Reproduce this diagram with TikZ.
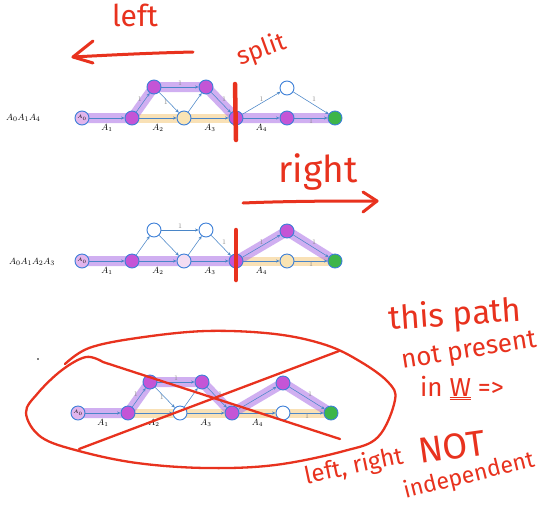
\documentclass[tikz,border=0pt]{standalone}
\usepackage{fontspec}
\newfontfamily\handfont{Fira Sans}
\usetikzlibrary{arrows.meta}
\definecolor{nodeblue}{HTML}{3C7FD8}
\definecolor{edgeblue}{HTML}{4A86C8}
\definecolor{vpurple}{HTML}{C455D6}
\definecolor{vlight}{HTML}{E2B5EC}
\definecolor{vyellow}{HTML}{F9E4B4}
\definecolor{vpink}{HTML}{F3DDF2}
\definecolor{vgreen}{HTML}{3DB54A}
\definecolor{hpurple}{HTML}{B27BE8}
\definecolor{horange}{HTML}{F6CD86}
\definecolor{redink}{HTML}{E8321E}
\definecolor{onegray}{HTML}{8A8A8A}

\tikzset{
  gv/.style={circle, draw=nodeblue, line width=0.9pt, minimum size=14pt, inner sep=0pt, fill=white},
  ge/.style={draw=edgeblue, line width=0.55pt, -{Stealth[length=3.5pt,width=3pt]}},
  hlp/.style={draw=hpurple, opacity=0.6, line width=10pt, line cap=round, line join=round},
  hlo/.style={draw=horange, opacity=0.6, line width=9pt, line cap=butt, line join=round},
  onelab/.style={text=onegray, font=\fontsize{7}{7}\selectfont, inner sep=1pt},
  alab/.style={font=\fontsize{9}{9}\selectfont, inner sep=0pt},
  seqlab/.style={font=\fontsize{9.5}{9.5}\selectfont, anchor=west, inner sep=0pt},
  redline/.style={draw=redink, line width=4.5pt, line cap=round},
  redstroke/.style={draw=redink, line width=2.3pt, line cap=round, line join=round},
  handtext/.style={text=redink, inner sep=0pt},
}

\newcommand\gcoords[1]{%
  \coordinate (#1cs) at (0,0);
  \coordinate (#1ca) at (50,0);
  \coordinate (#1cm) at (102,0);
  \coordinate (#1cd) at (154,0);
  \coordinate (#1cf) at (205,0);
  \coordinate (#1cg) at (253,0);
  \coordinate (#1cb) at (72,-31);
  \coordinate (#1cc) at (124,-31);
  \coordinate (#1ce) at (205,-30);
}
% #1 prefix, #2..#9 fills of s,a,b,c,m,d,e,f
\newcommand\gnodes[9]{%
  \node[gv, fill=#2] (#1s) at (#1cs) {\fontsize{5}{5}\selectfont$A_0$};
  \node[gv, fill=#3] (#1a) at (#1ca) {};
  \node[gv, fill=#4] (#1b) at (#1cb) {};
  \node[gv, fill=#5] (#1c) at (#1cc) {};
  \node[gv, fill=#6] (#1m) at (#1cm) {};
  \node[gv, fill=#7] (#1d) at (#1cd) {};
  \node[gv, fill=#8] (#1e) at (#1ce) {};
  \node[gv, fill=#9] (#1f) at (#1cf) {};
  \node[gv, fill=vgreen] (#1g) at (#1cg) {};
}
\newcommand\gedges[1]{%
  \draw[ge] (#1s) -- (#1a) node[midway, below=6pt, alab] {$A_1$};
  \draw[ge] (#1a) -- (#1b);
  \draw[ge] (#1b) -- (#1c);
  \draw[ge] (#1b) -- (#1m);
  \draw[ge] (#1a) -- (#1m) node[midway, below=6pt, alab] {$A_2$};
  \draw[ge] (#1m) -- (#1c);
  \draw[ge] (#1c) -- (#1d);
  \draw[ge] (#1m) -- (#1d) node[midway, below=6pt, alab] {$A_3$};
  \draw[ge] (#1d) -- (#1e);
  \draw[ge] (#1e) -- (#1g);
  \draw[ge] (#1d) -- (#1f) node[midway, below=6pt, alab] {$A_4$};
  \draw[ge] (#1f) -- (#1g);
}

\begin{document}
\begin{tikzpicture}[x=1pt,y=-1pt]
\useasboundingbox (0,0) rectangle (540,507);
\fill[white] (0,0) rectangle (540,507);

% ---------------- diagram 1 ----------------
\begin{scope}[shift={(82,118)}]
  \gcoords{1}
  \draw[hlo] (1ca) -- (1cm) -- (1cd);
  \draw[hlp] (1cs) -- (1ca) -- (1cb) -- (1cc) -- (1cd) -- (1cf) -- (1cg);
  \gnodes{1}{vlight}{vpurple}{vpurple}{vpurple}{vyellow}{vpurple}{white}{vpurple}
  \gedges{1}
  \path (1a) -- (1b) node[midway, above left, onelab] {1};
  \path (1b) -- (1c) node[midway, above, onelab] {1};
  \path (1b) -- (1m) node[midway, left, onelab] {1};
  \path (1c) -- (1d) node[midway, above right, onelab] {1};
  \path (1d) -- (1e) node[midway, above, onelab] {1};
  \path (1e) -- (1g) node[midway, above right, onelab] {1};
  \path (1f) -- (1g) node[midway, below, onelab] {1};
\end{scope}
\node[seqlab] (seq1) at (6,118) {$A_0A_1A_4$};

% ---------------- diagram 2 ----------------
\begin{scope}[shift={(82,261)}]
  \gcoords{2}
  \draw[hlo] (2cd) -- (2cf) -- (2cg);
  \draw[hlp] (2cs) -- (2ca) -- (2cm) -- (2cd) -- (2ce) -- (2cg);
  \gnodes{2}{vlight}{vpurple}{white}{white}{vpink}{vpurple}{vpurple}{vyellow}
  \gedges{2}
  \path (2b) -- (2c) node[midway, above, onelab] {1};
  \path (2c) -- (2d) node[midway, above right, onelab] {1};
  \path (2d) -- (2e) node[midway, above, onelab] {1};
  \path (2e) -- (2g) node[midway, above right, onelab] {1};
  \path (2f) -- (2g) node[midway, below, onelab] {1};
\end{scope}
\node[seqlab] (seq2) at (9,262) {$A_0A_1A_2A_3$};

% ---------------- diagram 3 ----------------
\begin{scope}[shift={(78,413)}]
  \gcoords{3}
  \draw[hlo] (3ca) -- (3cm) -- (3cd) -- (3cf) -- (3cg);
  \draw[hlp] (3cs) -- (3ca) -- (3cb) -- (3cc) -- (3cd) -- (3ce) -- (3cg);
  \gnodes{3}{vlight}{vpurple}{vpurple}{vpurple}{white}{vpurple}{vpurple}{white}
  \gedges{3}
  \path (3a) -- (3b) node[midway, above left, onelab] {1};
  \path (3b) -- (3c) node[midway, above, onelab] {1};
  \path (3b) -- (3m) node[midway, left, onelab] {1};
  \path (3c) -- (3d) node[midway, above right, onelab] {1};
  \path (3e) -- (3g) node[midway, above right, onelab] {1};
  \path (3f) -- (3g) node[midway, below, onelab] {1};
\end{scope}
\fill[black] (38,359) circle (0.9);

% ---------------- red annotations ----------------
% left arrow
\node[handtext, font=\handfont\fontsize{30}{30}\selectfont] (tleft) at (135,15) {left};
\draw[redstroke, line width=3pt] (193,52) .. controls (150,53) and (110,55) .. (73,57);
\draw[redstroke, line width=3pt] (93,41) -- (73,57) -- (93,63);
% split
\node[handtext, font=\handfont\fontsize{25}{25}\selectfont, rotate=20] (tsplit) at (262,50) {split};
\draw[redline] (235,84) -- (236,140);
\draw[redline] (236,230) -- (236,280);
% right arrow
\node[handtext, font=\handfont\fontsize{37}{37}\selectfont] (tright) at (318,172) {right};
\draw[redstroke, line width=3pt] (243,203) .. controls (290,201) and (340,201) .. (377,201);
\draw[redstroke, line width=3pt] (363,192) -- (377,201) -- (363,212);

% ellipse and cross
\draw[redstroke] plot[smooth, tension=0.6] coordinates {
  (65,364) (89,348) (137,338) (206,331) (275,334) (326,345) (361,362)
  (388,382) (395,400) (378,437) (344,451) (275,465) (206,468) (137,463)
  (79,451) (41,437) (26,413) (38,393) (62,370) (86,357) (103,362)}
  -- (340,439);
\draw[redstroke] (79,449) -- (339,351);

% text on the right
\node[handtext, font=\handfont\fontsize{33}{33}\selectfont, rotate=4] (t1) at (455,316) {this path};
\node[handtext, font=\handfont\fontsize{26}{26}\selectfont, rotate=9] (t2) at (469,352) {not present};
\node[handtext, font=\handfont\fontsize{26}{26}\selectfont] (t3) at (462,388) {in $\underline{\underline{\mbox{W}}}$ =>};
\node[handtext, font=\handfont\fontsize{24}{24}\selectfont, rotate=12] (t4) at (354,467) {left, right};
\node[handtext, font=\handfont\fontsize{36}{36}\selectfont, rotate=8] (t5) at (452,447) {NOT};
\node[handtext, font=\handfont\fontsize{23}{23}\selectfont, rotate=14] (t6) at (469,476) {independent};
\end{tikzpicture}
\end{document}
